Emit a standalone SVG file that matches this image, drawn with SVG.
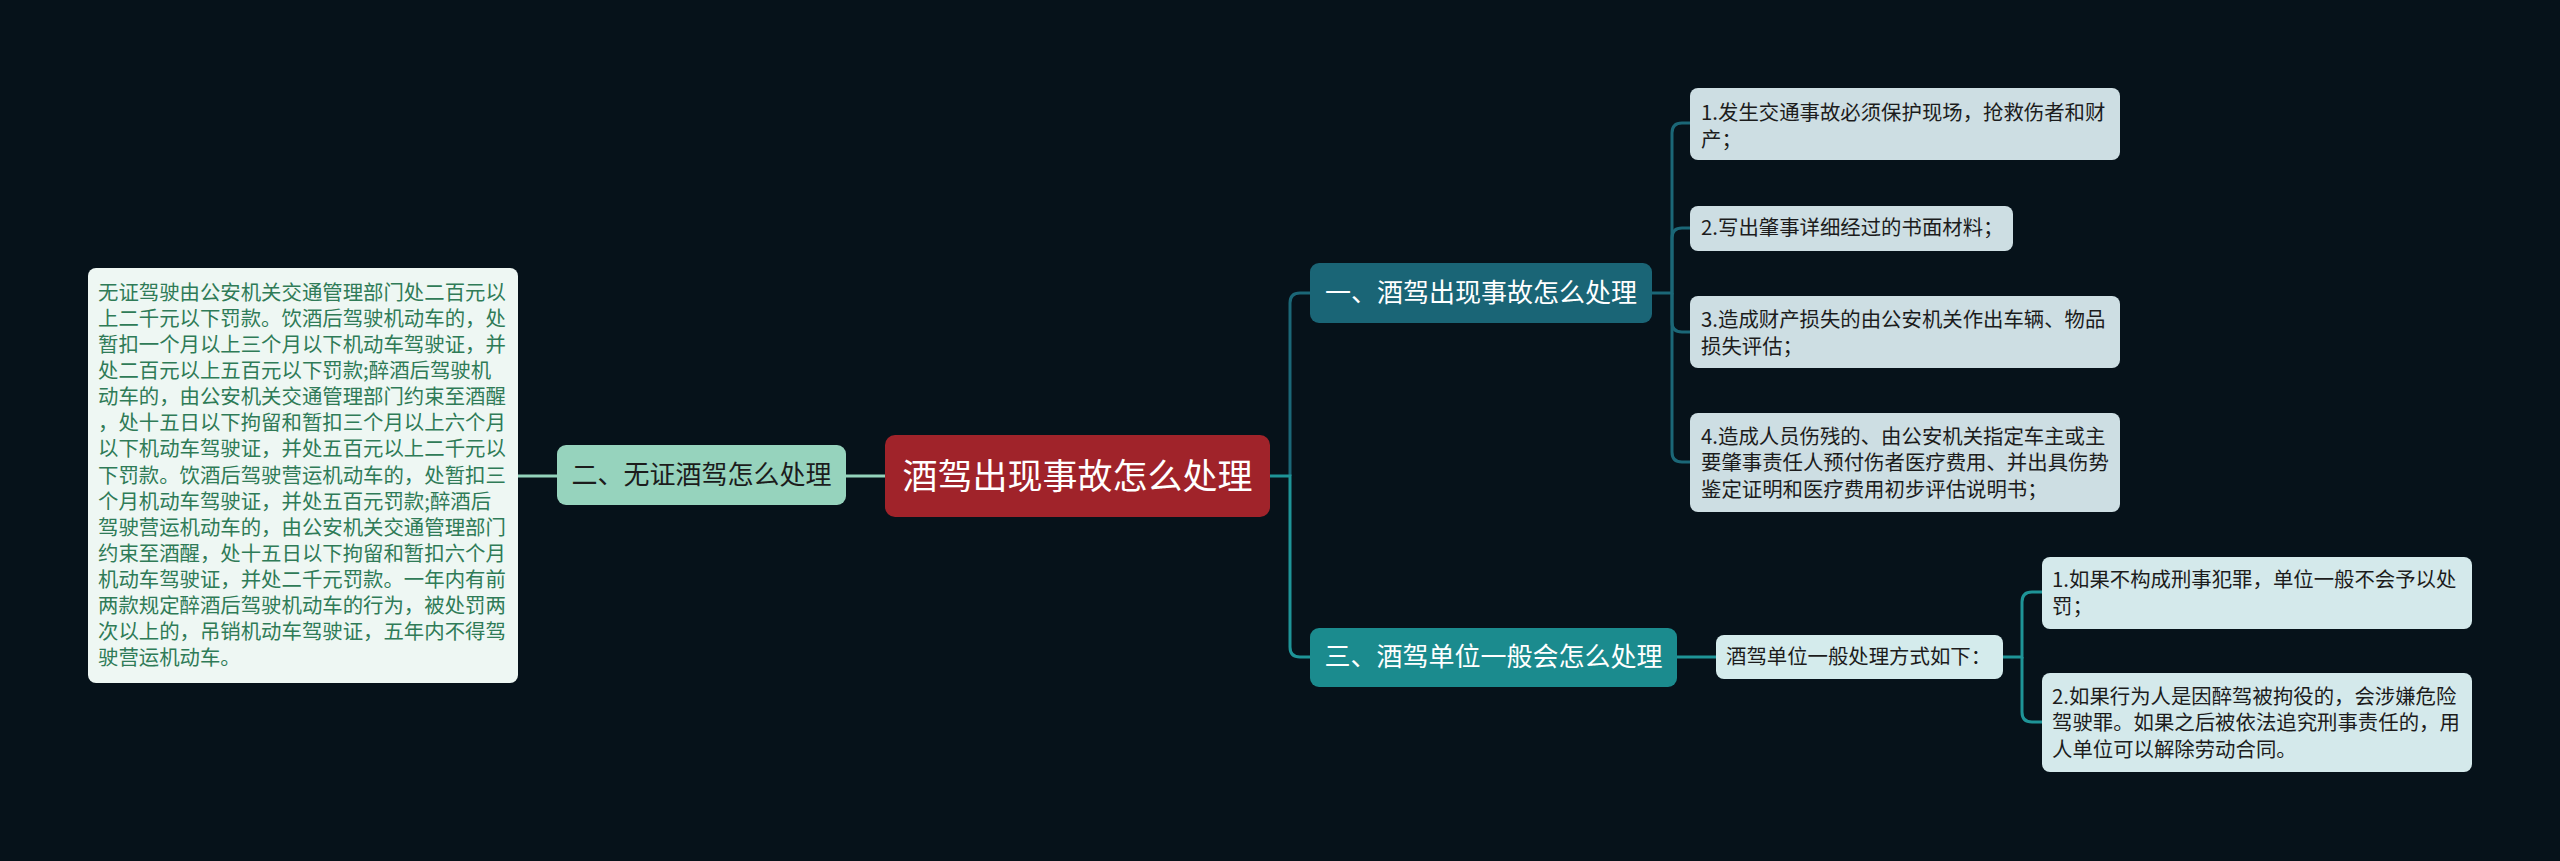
<svg xmlns="http://www.w3.org/2000/svg" width="2560" height="861" viewBox="0 0 2560 861">
<style>
text{font-family:"Noto Sans CJK SC","Noto Sans",sans-serif}
.c{fill:none;stroke-width:3}
.up{stroke:#1b6777}
.lo{stroke:#1e9497}
.lf{stroke:#93d3bb}
.t{font-size:20.4px;fill:#1c1c1c}
.g{font-size:20.4px;fill:#2f7b57}
.m{font-size:26px;text-anchor:middle;fill:#ffffff}
</style>
<rect width="2560" height="861" fill="#06121a"/>
<g id="connectors">
<path class="c lf" d="M885,476 H846"/>
<path class="c lf" d="M557,476 H518"/>
<path class="c up" d="M1290,476 V303 Q1290,293 1300,293 H1310"/>
<path class="c lo" d="M1270,476 H1290 V647 Q1290,657 1300,657 H1310"/>
<path class="c up" d="M1652,293 H1672 V133 Q1672,123 1682,123 H1690"/>
<path class="c up" d="M1672,293 V238 Q1672,228 1682,228 H1690"/>
<path class="c up" d="M1672,293 V322 Q1672,332 1682,332 H1690"/>
<path class="c up" d="M1672,293 V452 Q1672,462 1682,462 H1690"/>
<path class="c lo" d="M1677,657 H1716"/>
<path class="c lo" d="M2003,657 H2022 V602 Q2022,592 2032,592 H2042"/>
<path class="c lo" d="M2022,657 V712 Q2022,722 2032,722 H2042"/>
</g>
<g id="root">
<rect x="885" y="435" width="385" height="82" rx="10" fill="#a0232a"/>
<text x="1077.5" y="489" font-size="35" text-anchor="middle" fill="#ffffff">酒驾出现事故怎么处理</text>
</g>
<g id="n2">
<rect x="557" y="445" width="289" height="60" rx="9" fill="#96d3bd"/>
<text x="701.5" y="484" class="m" style="fill:#1c1c1c">二、无证酒驾怎么处理</text>
</g>
<g id="n2-detail">
<rect x="88" y="268" width="430" height="415" rx="8" fill="#eef7f3"/>
<text class="g" x="98">
<tspan x="98" y="300">无证驾驶由公安机关交通管理部门处二百元以</tspan>
<tspan x="98" y="326">上二千元以下罚款。饮酒后驾驶机动车的，处</tspan>
<tspan x="98" y="352">暂扣一个月以上三个月以下机动车驾驶证，并</tspan>
<tspan x="98" y="378">处二百元以上五百元以下罚款;醉酒后驾驶机</tspan>
<tspan x="98" y="404">动车的，由公安机关交通管理部门约束至酒醒</tspan>
<tspan x="98" y="430">，处十五日以下拘留和暂扣三个月以上六个月</tspan>
<tspan x="98" y="456">以下机动车驾驶证，并处五百元以上二千元以</tspan>
<tspan x="98" y="483">下罚款。饮酒后驾驶营运机动车的，处暂扣三</tspan>
<tspan x="98" y="509">个月机动车驾驶证，并处五百元罚款;醉酒后</tspan>
<tspan x="98" y="535">驾驶营运机动车的，由公安机关交通管理部门</tspan>
<tspan x="98" y="561">约束至酒醒，处十五日以下拘留和暂扣六个月</tspan>
<tspan x="98" y="587">机动车驾驶证，并处二千元罚款。一年内有前</tspan>
<tspan x="98" y="613">两款规定醉酒后驾驶机动车的行为，被处罚两</tspan>
<tspan x="98" y="639">次以上的，吊销机动车驾驶证，五年内不得驾</tspan>
<tspan x="98" y="665">驶营运机动车。</tspan>
</text>
</g>
<g id="n1">
<rect x="1310" y="263" width="342" height="60" rx="9" fill="#1a6576"/>
<text x="1481" y="302" class="m">一、酒驾出现事故怎么处理</text>
</g>
<g id="n1-1">
<rect x="1690" y="88" width="430" height="72" rx="8" fill="#cddee3"/>
<text class="t"><tspan x="1701" y="120">1.发生交通事故必须保护现场，抢救伤者和财</tspan><tspan x="1701" y="147">产；</tspan></text>
</g>
<g id="n1-2">
<rect x="1690" y="206" width="323" height="45" rx="8" fill="#cddee3"/>
<text class="t" x="1701" y="235">2.写出肇事详细经过的书面材料；</text>
</g>
<g id="n1-3">
<rect x="1690" y="296" width="430" height="72" rx="8" fill="#cddee3"/>
<text class="t"><tspan x="1701" y="327">3.造成财产损失的由公安机关作出车辆、物品</tspan><tspan x="1701" y="354">损失评估；</tspan></text>
</g>
<g id="n1-4">
<rect x="1690" y="413" width="430" height="99" rx="8" fill="#cddee3"/>
<text class="t"><tspan x="1701" y="444">4.造成人员伤残的、由公安机关指定车主或主</tspan><tspan x="1701" y="470">要肇事责任人预付伤者医疗费用、并出具伤势</tspan><tspan x="1701" y="497">鉴定证明和医疗费用初步评估说明书；</tspan></text>
</g>
<g id="n3">
<rect x="1310" y="628" width="367" height="59" rx="9" fill="#1b8b8e"/>
<text x="1493.5" y="666" class="m">三、酒驾单位一般会怎么处理</text>
</g>
<g id="n3-1">
<rect x="1716" y="635" width="287" height="44" rx="8" fill="#d4ebec"/>
<text class="t" x="1726" y="664">酒驾单位一般处理方式如下：</text>
</g>
<g id="n3-1-1">
<rect x="2042" y="557" width="430" height="72" rx="8" fill="#d4e9eb"/>
<text class="t"><tspan x="2052" y="587">1.如果不构成刑事犯罪，单位一般不会予以处</tspan><tspan x="2052" y="614">罚；</tspan></text>
</g>
<g id="n3-1-2">
<rect x="2042" y="673" width="430" height="99" rx="8" fill="#d4e9eb"/>
<text class="t"><tspan x="2052" y="704">2.如果行为人是因醉驾被拘役的，会涉嫌危险</tspan><tspan x="2052" y="730">驾驶罪。如果之后被依法追究刑事责任的，用</tspan><tspan x="2052" y="757">人单位可以解除劳动合同。</tspan></text>
</g>
</svg>
